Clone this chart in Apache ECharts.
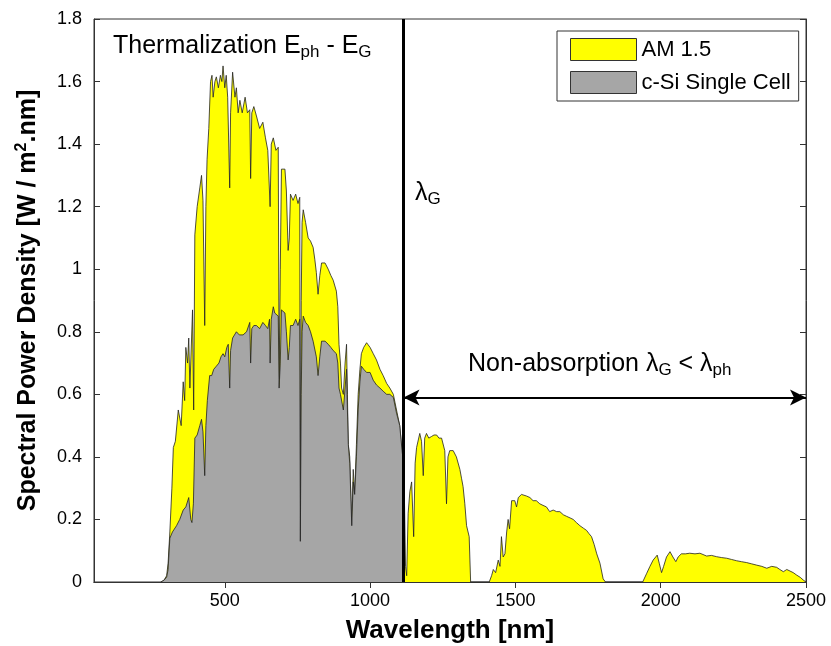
<!DOCTYPE html>
<html lang="en">

<head>
  <meta charset="UTF-8">
  <title>Spectral Power Density</title>
  <script src="https://cdn.jsdelivr.net/npm/echarts@6/dist/echarts.min.js"></script>
  <style>
    body {
      margin: 0;
      background: #fff;
    }

    #chart {
      width: 831px;
      height: 646px;
    }
  </style>
</head>

<body>
  <div id="chart"></div>

  <script>
    // AM 1.5 spectrum (nm, W/m2.nm)
    var amWavelength = [280, 290, 300, 305, 311, 318, 323, 330, 340, 350, 357, 362, 366, 372, 376, 380, 389, 393, 397, 405,
      414, 420, 425, 431, 435, 439, 445, 451, 456, 460, 466, 471, 478, 485, 490, 494, 500, 505, 510, 517,
      520, 527, 535, 540, 546, 552, 560, 570, 578, 586, 589, 593, 600, 609, 620, 631, 640, 648, 656, 660,
      667, 676, 684, 687, 691, 695, 707, 712, 718, 722, 726, 735, 744, 752, 758, 760, 763, 766, 770, 778,
      787, 795, 804, 810, 815, 821, 827, 833, 845, 856, 865, 873, 884, 889, 893, 898, 902, 908, 914, 919,
      922, 925, 930, 937, 942, 947, 953, 959, 965, 970, 978, 988, 1000, 1011, 1022, 1034, 1045, 1057, 1068, 1080,
      1091, 1102, 1110, 1114, 1118, 1122, 1126, 1131, 1137, 1143, 1150, 1155, 1160, 1171, 1177, 1183, 1188, 1194, 1202, 1211,
      1220, 1229, 1237, 1246, 1257, 1263, 1268, 1274, 1286, 1297, 1309, 1315, 1320, 1326, 1332, 1341, 1346, 1410, 1418, 1424,
      1432, 1441, 1447, 1452, 1458, 1464, 1470, 1475, 1480, 1487, 1498, 1504, 1510, 1521, 1538, 1550, 1561, 1572, 1584, 1595,
      1607, 1618, 1630, 1642, 1653, 1665, 1676, 1688, 1699, 1710, 1722, 1734, 1745, 1753, 1762, 1771, 1780, 1791, 1802, 1810,
      1938, 1952, 1963, 1974, 1988, 1995, 2003, 2010, 2020, 2032, 2042, 2052, 2060, 2071, 2085, 2100, 2118, 2135, 2158, 2175,
      2192, 2210, 2227, 2244, 2261, 2278, 2296, 2313, 2330, 2348, 2365, 2382, 2399, 2410, 2422, 2434, 2445, 2456, 2468, 2480,
      2491, 2500];
    var amPower = [0, 0.005, 0.02, 0.06, 0.16, 0.30, 0.43, 0.45, 0.55, 0.50, 0.64, 0.58, 0.75, 0.70, 0.78, 0.62, 0.87, 0.55, 1.11, 1.20,
      1.26, 1.30, 1.22, 0.82, 1.20, 1.35, 1.45, 1.60, 1.62, 1.55, 1.60, 1.615, 1.58, 1.62, 1.60, 1.65, 1.58, 1.62, 1.55, 1.26,
      1.50, 1.63, 1.55, 1.58, 1.50, 1.54, 1.50, 1.55, 1.50, 1.51, 1.29, 1.50, 1.52, 1.49, 1.45, 1.47, 1.42, 1.38, 1.20, 1.40,
      1.42, 1.38, 1.39, 0.65, 1.00, 1.32, 1.32, 1.25, 1.06, 1.10, 1.24, 1.22, 1.24, 1.21, 1.23, 0.13, 0.90, 1.15, 1.19, 1.15,
      1.10, 1.09, 1.07, 1.03, 0.99, 0.92, 0.98, 1.02, 1.02, 1.00, 0.98, 0.965, 0.93, 0.88, 0.76, 0.70, 0.62, 0.60, 0.70, 0.76,
      0.60, 0.44, 0.40, 0.18, 0.36, 0.28, 0.44, 0.60, 0.68, 0.73, 0.75, 0.765, 0.75, 0.73, 0.71, 0.68, 0.66, 0.635, 0.62, 0.60,
      0.55, 0.50, 0.42, 0.39, 0.28, 0.05, 0.02, 0.22, 0.29, 0.32, 0.145, 0.38, 0.43, 0.475, 0.45, 0.34, 0.46, 0.475, 0.46, 0.465,
      0.47, 0.47, 0.46, 0.46, 0.42, 0.25, 0.40, 0.42, 0.42, 0.40, 0.36, 0.33, 0.305, 0.25, 0.18, 0.145, 0, 0, 0.02, 0.04,
      0.03, 0.07, 0.05, 0.145, 0.08, 0.09, 0.16, 0.20, 0.17, 0.26, 0.26, 0.24, 0.27, 0.28, 0.275, 0.27, 0.26, 0.26, 0.25, 0.245,
      0.24, 0.225, 0.23, 0.225, 0.225, 0.215, 0.21, 0.205, 0.20, 0.19, 0.18, 0.172, 0.165, 0.155, 0.145, 0.12, 0.09, 0.06, 0.01, 0,
      0, 0.028, 0.05, 0.07, 0.086, 0.06, 0.03, 0.05, 0.08, 0.097, 0.08, 0.065, 0.08, 0.09, 0.09, 0.092, 0.09, 0.092, 0.083, 0.085,
      0.081, 0.078, 0.076, 0.072, 0.068, 0.065, 0.062, 0.058, 0.054, 0.05, 0.044, 0.05, 0.047, 0.04, 0.033, 0.04, 0.035, 0.03, 0.022, 0.015,
      0.006, 0];

    // c-Si single cell share
    var siWavelength = [280, 290, 300, 305, 311, 320, 334, 345, 357, 366, 376, 383, 387, 392, 397, 405, 414, 420, 425, 431,
      435, 440, 448, 455, 462, 471, 480, 487, 494, 500, 507, 512, 517, 520, 527, 533, 540, 550, 563, 575,
      586, 589, 593, 600, 609, 620, 631, 640, 648, 654, 656, 660, 667, 672, 684, 687, 691, 695, 707, 712,
      718, 722, 726, 735, 744, 752, 758, 760, 763, 766, 770, 778, 787, 795, 804, 815, 821, 827, 833, 845,
      856, 865, 873, 884, 889, 893, 898, 902, 908, 914, 919, 922, 925, 930, 937, 942, 947, 953, 959, 965,
      970, 978, 988, 1000, 1011, 1022, 1034, 1045, 1057, 1068, 1080, 1091, 1102, 1110, 1115];
    var siPower = [0, 0.005, 0.015, 0.04, 0.14, 0.16, 0.18, 0.20, 0.23, 0.24, 0.27, 0.20, 0.19, 0.25, 0.46, 0.47, 0.50, 0.52, 0.48, 0.34,
      0.50, 0.58, 0.66, 0.66, 0.68, 0.69, 0.70, 0.72, 0.73, 0.72, 0.75, 0.76, 0.62, 0.74, 0.78, 0.78, 0.80, 0.79, 0.79, 0.80,
      0.83, 0.70, 0.81, 0.82, 0.82, 0.81, 0.83, 0.82, 0.81, 0.84, 0.70, 0.84, 0.88, 0.86, 0.85, 0.62, 0.70, 0.87, 0.86, 0.80,
      0.71, 0.75, 0.82, 0.82, 0.84, 0.82, 0.84, 0.13, 0.60, 0.80, 0.85, 0.83, 0.82, 0.80, 0.77, 0.72, 0.66, 0.72, 0.77, 0.77,
      0.76, 0.75, 0.74, 0.73, 0.70, 0.62, 0.60, 0.60, 0.55, 0.62, 0.68, 0.55, 0.44, 0.38, 0.18, 0.32, 0.28, 0.40, 0.55, 0.64,
      0.69, 0.68, 0.67, 0.67, 0.645, 0.63, 0.62, 0.61, 0.60, 0.60, 0.59, 0.54, 0.50, 0.42, 0.38];

    var xTicks = [500, 1000, 1500, 2000, 2500];
    var lambdaG = 1115;   // band gap wavelength
    var arrowLevel = 0.59;

    var font = "'Liberation Sans', Arial, sans-serif";

    function pairs(xs, ys) {
      var out = [];
      for (var i = 0; i < xs.length; i++) out.push([xs[i], ys[i]]);
      return out;
    }

    // rich styles shared by the annotations (normal text + subscript)
    var annRich = {
      a: { fontSize: 25, fontFamily: font, fill: '#000', lineHeight: 28 },
      s: { fontSize: 17, fontFamily: font, fill: '#000', lineHeight: 17, verticalAlign: 'bottom' }
    };

    var myChart = echarts.init(document.getElementById('chart'), null, { renderer: 'canvas' });

    var option = {
      animation: false,
      backgroundColor: '#fff',
      textStyle: { fontFamily: font, color: '#000' },
      grid: {
        left: 94, right: 25, top: 19, bottom: 64,
        outerBoundsMode: 'none',
        show: true, borderColor: '#333', borderWidth: 1
      },
      legend: {
        orient: 'vertical',
        left: 557,
        top: 31,
        padding: [7, 8, 7, 13],
        itemGap: 10,
        itemWidth: 66,
        itemHeight: 22,
        icon: 'rect',
        backgroundColor: '#fff',
        borderColor: '#333',
        borderWidth: 1,
        textStyle: { fontSize: 22, color: '#000', fontFamily: font },
        data: [
          { name: 'AM 1.5', itemStyle: { color: '#ffff00', borderColor: '#333', borderWidth: 1 } },
          { name: 'c-Si Single Cell', itemStyle: { color: '#a6a6a6', borderColor: '#333', borderWidth: 1 } }
        ]
      },
      xAxis: [
        {
          type: 'value',
          min: 50,
          max: 2500,
          name: 'Wavelength [nm]',
          nameLocation: 'middle',
          nameGap: 36,
          nameTextStyle: { fontSize: 26, fontWeight: 'bold', color: '#000', fontFamily: font },
          axisLine: { show: true, lineStyle: { color: '#333' } },
          axisTick: { show: true, inside: true, length: 6, customValues: xTicks, lineStyle: { color: '#333' } },
          axisLabel: {
            customValues: xTicks, fontSize: 18, color: '#000', margin: 10, fontFamily: font,
            formatter: function (v) { return String(v); }
          },
          splitLine: { show: false }
        },
        {
          type: 'value',
          position: 'top',
          min: 50,
          max: 2500,
          axisLine: { show: true, lineStyle: { color: '#333' } },
          axisTick: { show: true, inside: true, length: 6, customValues: xTicks, lineStyle: { color: '#333' } },
          axisLabel: { show: false },
          splitLine: { show: false }
        }
      ],
      yAxis: [
        {
          type: 'value',
          min: 0,
          max: 1.8,
          interval: 0.2,
          name: '{b|Spectral Power Density [W / m}{sup|2}{b|.nm]}',
          nameLocation: 'middle',
          nameGap: 52,
          nameTextStyle: {
            rich: {
              b: { fontSize: 25, fontWeight: 'bold', color: '#000', fontFamily: font, lineHeight: 28 },
              sup: { fontSize: 16, fontWeight: 'bold', color: '#000', fontFamily: font, lineHeight: 16, verticalAlign: 'top' }
            }
          },
          axisLine: { show: true, lineStyle: { color: '#333' } },
          axisTick: { show: true, inside: true, length: 6, lineStyle: { color: '#333' } },
          axisLabel: { fontSize: 18, color: '#000', margin: 12, fontFamily: font },
          splitLine: { show: false }
        },
        {
          type: 'value',
          position: 'right',
          min: 0,
          max: 1.8,
          interval: 0.2,
          axisLine: { show: true, lineStyle: { color: '#333' } },
          axisTick: { show: true, inside: true, length: 6, lineStyle: { color: '#333' } },
          axisLabel: { show: false },
          splitLine: { show: false }
        }
      ],
      series: [
        {
          name: 'AM 1.5',
          type: 'line',
          data: pairs(amWavelength, amPower),
          symbol: 'none',
          itemStyle: { color: '#ffff00' },
          lineStyle: { color: '#222', width: 0.8 },
          areaStyle: { color: '#ffff00', opacity: 1 },
          z: 2,
          markLine: {
            silent: true,
            symbol: ['none', 'none'],
            label: { show: false },
            data: [
              { xAxis: lambdaG, lineStyle: { color: '#000', width: 3, type: 'solid' } },
              [
                { coord: [lambdaG, arrowLevel], symbol: 'arrow', symbolSize: [12, 16] },
                { coord: [2500, arrowLevel], symbol: 'arrow', symbolSize: [12, 16], lineStyle: { color: '#000', width: 2, type: 'solid' } }
              ]
            ]
          }
        },
        {
          name: 'c-Si Single Cell',
          type: 'line',
          data: pairs(siWavelength, siPower),
          symbol: 'none',
          itemStyle: { color: '#a6a6a6' },
          lineStyle: { color: '#222', width: 0.8 },
          areaStyle: { color: '#a6a6a6', opacity: 1 },
          z: 3
        }
      ],
      graphic: [
        {
          type: 'text',
          left: 113,
          top: 34,
          style: { text: '{a|Thermalization E}{s|ph}{a| - E}{s|G}', rich: annRich }
        },
        {
          type: 'text',
          left: 415,
          top: 181,
          style: { text: '{a|λ}{s|G}', rich: annRich }
        },
        {
          type: 'text',
          left: 468,
          top: 352,
          style: { text: '{a|Non-absorption λ}{s|G}{a| < λ}{s|ph}', rich: annRich }
        }
      ]
    };

    option && myChart.setOption(option);
  </script>
</body>

</html>
